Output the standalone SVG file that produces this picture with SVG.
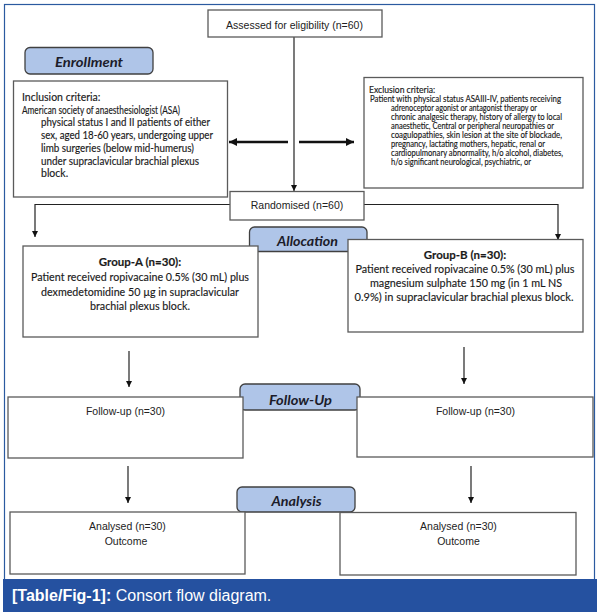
<svg xmlns="http://www.w3.org/2000/svg" width="599" height="616" viewBox="0 0 599 616">
<style>
.box{fill:#fff;stroke:#5a5a5a;stroke-width:1.3}
.lab{fill:#afc5e8;stroke:#404040;stroke-width:1.3}
.cal{font-family:"Liberation Sans Narrow",Lato,"Liberation Sans",sans-serif;fill:#1a1a1a;stroke:#1a1a1a;stroke-width:0.15}
.ari{font-family:"Liberation Sans",Arial,sans-serif;fill:#222;font-size:10.5px}
.labt{font-family:Lato,"Liberation Sans",sans-serif;font-weight:bold;font-style:italic;font-size:14px;fill:#1c1c2a;text-anchor:middle}
.inc{font-size:10.5px}
.exc{font-size:8.6px}
.grp{font-size:11.5px;text-anchor:middle}
.mid{text-anchor:middle}
.ln{fill:none;stroke:#222;stroke-width:1.2}
.thick{fill:none;stroke:#111;stroke-width:2.6}
</style>
<defs>
<marker id="ah" viewBox="0 0 10 10" refX="10" refY="5" markerWidth="6" markerHeight="7" markerUnits="userSpaceOnUse" orient="auto"><path d="M0,0 L10,5 L0,10 z" fill="#111"/></marker>
<marker id="ahb" viewBox="0 0 10 10" refX="10" refY="5" markerWidth="8" markerHeight="8" markerUnits="userSpaceOnUse" orient="auto"><path d="M0,0 L10,5 L0,10 z" fill="#111"/></marker>
</defs>
<rect x="0" y="0" width="599" height="616" fill="#fff"/>
<rect x="4.5" y="4.5" width="590" height="580" fill="#fff" stroke="#2b5aa0" stroke-width="1.2"/>

<g id="connectors">
<path class="ln" d="M294,37 V191" marker-end="url(#ah)"/>
<path class="thick" d="M288,142 H229" marker-end="url(#ahb)"/>
<path class="thick" d="M299,142 H354" marker-end="url(#ahb)"/>
<path class="ln" d="M230,204.5 H35 V237" marker-end="url(#ah)"/>
<path class="ln" d="M364,204.5 H558 V240" marker-end="url(#ah)"/>
<path class="ln" d="M129,351 V387" marker-end="url(#ah)"/>
<path class="ln" d="M464,347 V384" marker-end="url(#ah)"/>
<path class="ln" d="M128,466 V503" marker-end="url(#ah)"/>
<path class="ln" d="M471,466 V503" marker-end="url(#ah)"/>
</g>

<g id="enrollment-label">
<rect class="lab" x="25" y="47.5" width="128" height="26.5" rx="5"/>
<text class="labt" x="89" y="66.5" textLength="68" lengthAdjust="spacingAndGlyphs">Enrollment</text>
</g>
<g id="allocation-label">
<rect class="lab" x="249.5" y="227" width="117.5" height="24.5" rx="5"/>
<text class="labt" x="307.5" y="246" textLength="61" lengthAdjust="spacingAndGlyphs">Allocation</text>
</g>
<g id="followup-label">
<rect class="lab" x="240" y="384" width="120" height="26" rx="5"/>
<text class="labt" x="300.5" y="404.5" textLength="63" lengthAdjust="spacingAndGlyphs">Follow-Up</text>
</g>
<g id="analysis-label">
<rect class="lab" x="237" y="487" width="118" height="25" rx="5"/>
<text class="labt" x="296.5" y="506" textLength="50" lengthAdjust="spacingAndGlyphs">Analysis</text>
</g>

<g id="assessed">
<rect class="box" x="208" y="10" width="174" height="27"/>
<text class="ari mid" x="294.5" y="29">Assessed for eligibility (n=60)</text>
</g>

<g id="inclusion">
<rect class="box" x="13.5" y="81" width="214" height="116"/>
<text class="cal inc" x="22" y="101">Inclusion criteria:</text>
<text class="cal inc" x="22" y="113.7" textLength="158" lengthAdjust="spacingAndGlyphs">American society of anaesthesiologist (ASA)</text>
<text class="cal inc" x="41" y="126.4" textLength="169" lengthAdjust="spacingAndGlyphs">physical status I and II patients of either</text>
<text class="cal inc" x="41" y="139.1" textLength="172" lengthAdjust="spacingAndGlyphs">sex, aged 18-60 years, undergoing upper</text>
<text class="cal inc" x="41" y="151.8" textLength="153" lengthAdjust="spacingAndGlyphs">limb surgeries (below mid-humerus)</text>
<text class="cal inc" x="41" y="164.5" textLength="158" lengthAdjust="spacingAndGlyphs">under supraclavicular brachial plexus</text>
<text class="cal inc" x="41" y="177.2">block.</text>
</g>

<g id="exclusion">
<rect class="box" x="364" y="77.5" width="219" height="110.5"/>
<text class="cal exc" x="369" y="92.5">Exclusion criteria:</text>
<text class="cal exc" x="370" y="101.6" textLength="191" lengthAdjust="spacingAndGlyphs">Patient with physical status ASAIII-IV, patients receiving</text>
<text class="cal exc" x="391" y="110.7" textLength="146" lengthAdjust="spacingAndGlyphs">adrenoceptor agonist or antagonist therapy or</text>
<text class="cal exc" x="391" y="119.8" textLength="171" lengthAdjust="spacingAndGlyphs">chronic analgesic therapy, history of allergy to local</text>
<text class="cal exc" x="391" y="128.9" textLength="163" lengthAdjust="spacingAndGlyphs">anaesthetic, Central or peripheral neuropathies or</text>
<text class="cal exc" x="391" y="138" textLength="171" lengthAdjust="spacingAndGlyphs">coagulopathies, skin lesion at the site of blockade,</text>
<text class="cal exc" x="391" y="147.1" textLength="154" lengthAdjust="spacingAndGlyphs">pregnancy, lactating mothers, hepatic, renal or</text>
<text class="cal exc" x="391" y="156.2" textLength="172" lengthAdjust="spacingAndGlyphs">cardiopulmonary abnormality, h/o alcohol, diabetes,</text>
<text class="cal exc" x="391" y="165.3" textLength="140" lengthAdjust="spacingAndGlyphs">h/o significant neurological, psychiatric, or</text>
</g>

<g id="randomised">
<rect class="box" x="230" y="191.5" width="134" height="28.5"/>
<text class="ari mid" x="297" y="209">Randomised (n=60)</text>
</g>

<g id="group-a">
<rect class="box" x="23" y="246" width="235" height="91"/>
<text class="cal grp" x="140" y="266" font-weight="bold">Group-A (n=30):</text>
<text class="cal grp" x="140" y="281" textLength="218" lengthAdjust="spacingAndGlyphs">Patient received ropivacaine 0.5% (30 mL) plus</text>
<text class="cal grp" x="140" y="295.5" textLength="198" lengthAdjust="spacingAndGlyphs">dexmedetomidine 50 µg in supraclavicular</text>
<text class="cal grp" x="140" y="309.5" textLength="100" lengthAdjust="spacingAndGlyphs">brachial plexus block.</text>
</g>

<g id="group-b">
<rect class="box" x="348" y="239.5" width="235" height="92.5"/>
<text class="cal grp" x="465" y="258.5" font-weight="bold">Group-B (n=30):</text>
<text class="cal grp" x="465" y="272.5" textLength="219" lengthAdjust="spacingAndGlyphs">Patient received ropivacaine 0.5% (30 mL) plus</text>
<text class="cal grp" x="466" y="286.5" textLength="192" lengthAdjust="spacingAndGlyphs">magnesium sulphate 150 mg (in 1 mL NS</text>
<text class="cal grp" x="464" y="300.5" textLength="219" lengthAdjust="spacingAndGlyphs">0.9%) in supraclavicular brachial plexus block.</text>
</g>

<g id="followup-a">
<rect class="box" x="8" y="397" width="235" height="61"/>
<text class="ari mid" x="125.5" y="415" font-size="10">Follow-up (n=30)</text>
</g>
<g id="followup-b">
<rect class="box" x="357" y="397" width="236" height="60"/>
<text class="ari mid" x="475.5" y="415" font-size="10">Follow-up (n=30)</text>
</g>

<g id="analysed-a">
<rect class="box" x="10" y="512" width="235" height="62"/>
<text class="ari mid" x="127.5" y="530" font-size="10">Analysed (n=30)</text>
<text class="ari mid" x="126" y="544.5" font-size="10">Outcome</text>
</g>
<g id="analysed-b">
<rect class="box" x="340" y="512.5" width="236" height="62.5"/>
<text class="ari mid" x="458.5" y="530" font-size="10">Analysed (n=30)</text>
<text class="ari mid" x="458.5" y="544.5" font-size="10">Outcome</text>
</g>

<g id="caption">
<rect x="3" y="579" width="594" height="33" fill="#2551a0"/>
<text x="12" y="601" font-family="'Liberation Sans',Arial,sans-serif" font-size="16" fill="#fff"><tspan font-weight="bold">[Table/Fig-1]:</tspan> Consort flow diagram.</text>
</g>
</svg>
